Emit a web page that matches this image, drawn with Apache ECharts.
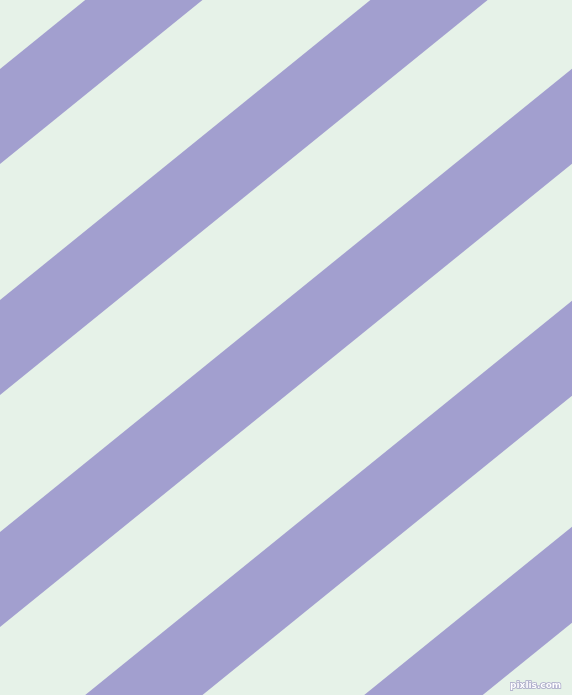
<!DOCTYPE html>
<html>
<head>
<meta charset="utf-8">
<script src="https://cdn.jsdelivr.net/npm/echarts@6/dist/echarts.min.js"></script>
<style>
html,body{margin:0;padding:0;background:#E6F2E8;}
#chart{width:572px;height:695px;}
</style>
</head>
<body>
<div id="chart"></div>
<script>
// Stripe edges: y-intercepts (at x = 0) of each stripe's upper and lower edge
const stripeTop = [69, 300, 532, 764, 990];
const stripeBottom = [164, 395, 627, 859, 1086];
// Edge slope (pixels down per pixel left), i.e. tan(39deg)
const stripeSlope = 0.81;
const xRange = [0, 572];
const yRange = [0, 695];

const stripeData = stripeTop.map((t, i) => [t, stripeBottom[i]]);

const chart = echarts.init(document.getElementById('chart'), null, {renderer: 'canvas'});
chart.setOption({
  backgroundColor: '#E6F2E8',
  animation: false,
  grid: {left: 0, right: 0, top: 0, bottom: 0},
  xAxis: {type: 'value', min: xRange[0], max: xRange[1], show: false},
  yAxis: {type: 'value', min: yRange[0], max: yRange[1], inverse: true, show: false},
  series: [{
    type: 'custom',
    clip: true,
    data: stripeData,
    renderItem: function (params, api) {
      const t = api.value(0), b = api.value(1);
      const x0 = xRange[0] - 50, x1 = xRange[1] + 50;
      const pts = [
        api.coord([x0, t - stripeSlope * x0]),
        api.coord([x1, t - stripeSlope * x1]),
        api.coord([x1, b - stripeSlope * x1]),
        api.coord([x0, b - stripeSlope * x0])
      ];
      return {
        type: 'polygon',
        shape: {points: pts},
        style: {fill: '#A29FCF', stroke: null}
      };
    }
  }],
  graphic: [{
    type: 'text',
    right: 10,
    bottom: 4,
    style: {
      text: 'pixlis.com',
      font: 'bold 9px "DejaVu Sans"',
      fill: '#FFFFFF',
      stroke: '#A8A6C8',
      lineWidth: 1.5
    }
  }]
});
</script>
</body>
</html>
